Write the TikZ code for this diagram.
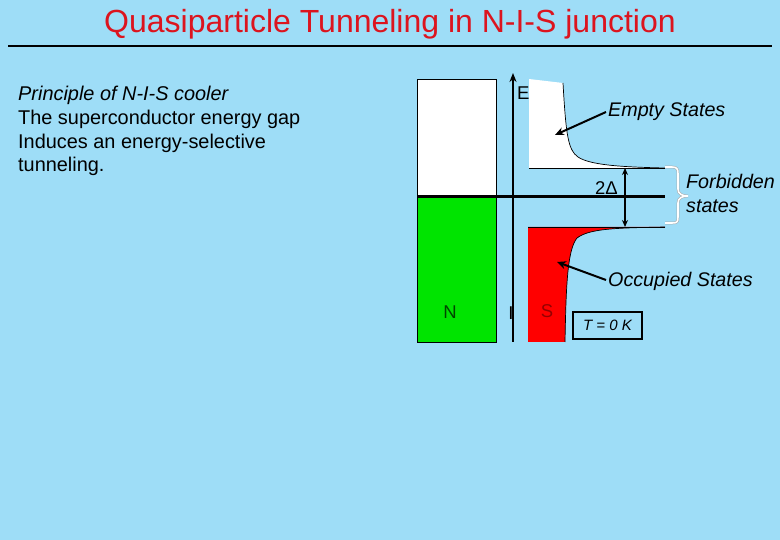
\documentclass[tikz,border=0pt]{standalone}
\usepackage{fontspec}
\setmainfont{Liberation Sans}
\usetikzlibrary{arrows.meta}
\definecolor{bgblue}{RGB}{158,221,247}
\definecolor{titlered}{RGB}{220,20,30}
\definecolor{ngreen}{RGB}{0,228,0}
\definecolor{sred}{RGB}{255,0,0}
\definecolor{darkgreen}{RGB}{0,70,0}
\definecolor{darkred}{RGB}{150,0,0}
\tikzset{
  lbl/.style={inner sep=0pt, font=\fontsize{18.5}{20}\selectfont},
  ilbl/.style={inner sep=0pt, font=\fontsize{19.7}{22}\selectfont\itshape},
  body/.style={inner sep=0pt, anchor=base west, font=\fontsize{19.9}{22}\selectfont},
  pointer/.style={line width=2pt, -{Stealth[length=9pt,width=8pt]}},
  thin edge/.style={line width=0.7pt, black},
}
\begin{document}
\begin{tikzpicture}[x=1pt,y=-1pt]
\useasboundingbox (0,0) rectangle (780,540);
\fill[bgblue] (0,0) rectangle (780,540);
% title
\node[inner sep=0pt, anchor=base, text=titlered, font=\fontsize{32}{34}\selectfont] (title) at (390,33) {Quasiparticle Tunneling in N-I-S junction};
\coordinate (tl) at (8,46);
\coordinate (tr) at (772,46);
\draw[line width=1.6pt] (tl) -- (tr);
% left text
\node[body, font=\fontsize{19.9}{22}\selectfont\itshape] (t1) at (18,101) {Principle of N-I-S cooler};
\node[body] (t2) at (18,125) {The superconductor energy gap};
\node[body] (t3) at (18,149) {Induces an energy-selective};
\node[body] (t4) at (18,172) {tunneling.};
% N box
\fill[white] (417,79) rectangle (496,197);
\fill[ngreen] (417,197) rectangle (496,342);
\draw[line width=0.8pt] (417,79) rectangle (496,342);
% E label
\node[lbl, anchor=base west] (E) at (517,100) {E};
% S empty states (white)
\fill[white] (529,79) -- (563,83) .. controls (566,135) and (568,150) .. (578,157) .. controls (590,165) and (620,167) .. (665,168) -- (529,168) -- cycle;
\draw[thin edge] (563,83) .. controls (566,135) and (568,150) .. (578,157) .. controls (590,165) and (620,167) .. (665,168);
\draw[thin edge] (529,168) -- (665,168);
% S occupied states (red)
\fill[sred] (528,227) -- (528,342) -- (565,342) .. controls (566,290) and (567,250) .. (577,238) .. controls (590,228) and (620,228) .. (665,227) -- cycle;
\draw[thin edge] (565,342) .. controls (566,290) and (567,250) .. (577,238) .. controls (590,228) and (620,228) .. (665,227);
\draw[thin edge] (528,227) -- (665,227);
% Fermi level
\coordinate (fl) at (417,197);
\coordinate (fr) at (665,197);
\draw[line width=3pt] (fl) -- (fr);
% energy axis
\coordinate (ab) at (513,342);
\coordinate (at) at (513,73);
\draw[line width=2.2pt, -{Stealth[length=9pt,width=7pt]}] (ab) -- (at);
% gap arrow
\coordinate (gt) at (625,168);
\coordinate (gb) at (625,227);
\draw[line width=1.5pt, {Stealth[length=7pt,width=6pt]}-{Stealth[length=7pt,width=6pt]}] (gt) -- (gb);
\node[lbl, anchor=base west] (gap) at (595,195) {2Δ};
% brace
\draw[gray!70, line width=0.5pt, double=white, double distance=1.6pt]
  (665,167) -- (672,167) .. controls (677,167) and (678,169) .. (678,174)
  -- (678,189) .. controls (678,194) and (682,196) .. (688,196)
  .. controls (682,196) and (678,198) .. (678,203)
  -- (678,217) .. controls (678,222) and (677,223) .. (672,223) -- (665,223);
\node[ilbl, anchor=base west] (forb1) at (686,189) {Forbidden};
\node[ilbl, anchor=base west] (forb2) at (686,213) {states};
% empty / occupied labels
\node[ilbl, anchor=base west] (empty) at (608,117) {Empty States};
\node[ilbl, anchor=base west] (occ) at (608,287) {Occupied States};
\coordinate (ea) at (606,112);
\coordinate (eb) at (555,135);
\draw[pointer] (ea) -- (eb);
\coordinate (oa) at (606,280);
\coordinate (ob) at (557,262);
\draw[pointer] (oa) -- (ob);
% layer labels
\node[lbl, text=darkgreen] (N) at (450,312) {N};
\node[lbl] (I) at (511,313) {I};
\node[lbl, text=darkred] (S) at (547,311) {S};
% temperature box
\node[draw, line width=1.3pt, minimum width=69pt, minimum height=27pt, inner sep=0pt, font=\fontsize{15}{17}\selectfont\itshape] (T) at (607.5,325.5) {T = 0 K};
\end{tikzpicture}
\end{document}
